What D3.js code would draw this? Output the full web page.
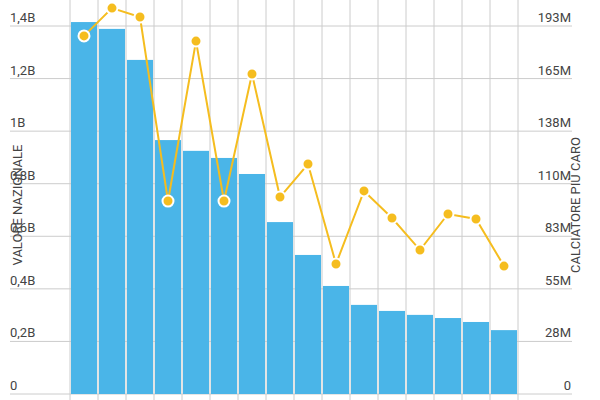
<!DOCTYPE html><html><head><meta charset="utf-8">
<script src="https://cdn.jsdelivr.net/npm/d3@7"></script>
<style>body{margin:0;background:#fff}text{font-family:Roboto,sans-serif;fill:#444}</style></head><body>
<svg id="c" width="600" height="400"></svg>
<script>
const categories = d3.range(1,17).map(String);
const nationalValue = [1.415,1.389,1.271,0.966,0.925,0.898,0.837,0.654,0.529,0.411,0.339,0.316,0.301,0.289,0.274,0.243]; // billions
const topPlayer = [187.8,202.4,197.7,101.2,185.1,101.2,167.8,103.3,120.6,68.2,106.5,92.3,75.5,94.4,91.8,67.1]; // millions
const leftTicks = [0,0.2,0.4,0.6,0.8,1,1.2,1.4];
const leftLabels = ["0","0,2B","0,4B","0,6B","0,8B","1B","1,2B","1,4B"];
const rightLabels = ["0","28M","55M","83M","110M","138M","165M","193M"];

const svg = d3.select("#c");
const x = d3.scaleBand().domain(categories).range([70,518]).paddingInner(0.07).paddingOuter(0.035);
const yL = d3.scaleLinear().domain([0,1.4]).range([394,26]);
const yR = d3.scaleLinear().domain([0,193]).range([394,26]);

const g = svg.append("g");
g.selectAll(".h").data(leftTicks).join("line")
  .attr("x1",10).attr("x2",572).attr("y1",d=>yL(d)).attr("y2",d=>yL(d)).attr("stroke","#ccc");
const step = x.step();
g.selectAll(".v").data(d3.range(17)).join("line")
  .attr("x1",d=>70+d*step).attr("x2",d=>70+d*step).attr("y1",0).attr("y2",400).attr("stroke","#ccc");

svg.selectAll(".bar").data(nationalValue).join("rect")
  .attr("x",(d,i)=>x(categories[i])).attr("width",x.bandwidth())
  .attr("y",d=>yL(d)).attr("height",d=>yL(0)-yL(d)).attr("fill","#4ab5e8");

const line = d3.line().x((d,i)=>x(categories[i])+x.bandwidth()/2).y(d=>yR(d));
svg.append("path").datum(topPlayer).attr("d",line).attr("fill","none").attr("stroke","#f5bd1f").attr("stroke-width",2);
svg.selectAll(".pt").data(topPlayer).join("circle")
  .attr("cx",(d,i)=>x(categories[i])+x.bandwidth()/2).attr("cy",d=>yR(d)).attr("r",5.5)
  .attr("fill","#f5bd1f").attr("stroke","#fff").attr("stroke-width",2);

svg.selectAll(".lt").data(leftTicks).join("text")
  .attr("x",10).attr("y",d=>yL(d)-4).attr("font-size",13).text((d,i)=>leftLabels[i]);
svg.selectAll(".rt").data(leftTicks).join("text")
  .attr("x",571).attr("y",d=>yL(d)-4).attr("font-size",13).attr("text-anchor","end").text((d,i)=>rightLabels[i]);

svg.append("text").attr("transform","translate(22,205) rotate(-90)").attr("text-anchor","middle").attr("font-size",13).text("VALORE NAZIONALE");
svg.append("text").attr("transform","translate(580,205) rotate(-90)").attr("text-anchor","middle").attr("font-size",13).text("CALCIATORE PIÙ CARO");
</script></body></html>
